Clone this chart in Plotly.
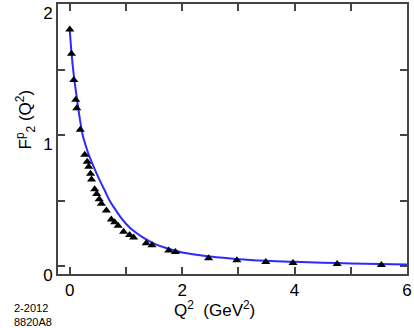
"""Proton Pauli form factor F2p(Q^2): data points and fitted curve."""
import plotly.graph_objects as go

q2_data = [0.00, 0.03, 0.071, 0.106, 0.124, 0.186, 0.266, 0.310, 0.337, 0.369,
           0.387, 0.443, 0.479, 0.523, 0.562, 0.651, 0.739, 0.798, 0.860, 0.957,
           1.064, 1.135, 1.360, 1.463, 1.761, 1.879, 2.470, 2.973, 3.488, 3.972,
           4.757, 5.544]
f2_data = [1.806, 1.620, 1.420, 1.271, 1.206, 1.041, 0.851, 0.797, 0.759, 0.707,
           0.662, 0.588, 0.551, 0.512, 0.478, 0.426, 0.358, 0.336, 0.309, 0.264,
           0.240, 0.221, 0.177, 0.161, 0.122, 0.110, 0.063, 0.047, 0.034, 0.026,
           0.018, 0.011]

# fitted curve (sampled off the figure)
q2_fit = [0.0, 0.03, 0.07, 0.12, 0.18, 0.23, 0.27, 0.33, 0.40, 0.47, 0.55, 0.62,
          0.71, 0.80, 0.90, 1.0, 1.1, 1.3, 1.5, 1.7, 2.0, 2.5, 3.0, 3.5, 4.0,
          4.75, 5.5, 6.0]
f2_fit = [1.80, 1.63, 1.46, 1.30, 1.12, 1.00, 0.94, 0.86, 0.785, 0.715, 0.64, 0.58,
          0.50, 0.44, 0.378, 0.325, 0.283, 0.221, 0.174, 0.142, 0.106, 0.075, 0.055,
          0.043, 0.035, 0.025, 0.018, 0.014]

x_ticks = [0, 1, 2, 3, 4, 5, 6]
x_ticklabels = ["0", "", "2", "", "4", "", "6"]
y_ticks = [0, 0.5, 1, 1.5, 2]
y_ticklabels = ["0", "", "1", "", "2"]

FONT = "Liberation Sans, Arial, Helvetica, sans-serif"
AXIS_COLOR = "#444444"

fig = go.Figure()
fig.add_trace(go.Scatter(
    x=q2_fit, y=f2_fit, mode="lines", line=dict(color="#2b2bff", width=2, shape="spline"),
    showlegend=False, hoverinfo="skip",
))
fig.add_trace(go.Scatter(
    x=q2_data, y=f2_data, mode="markers",
    marker=dict(symbol="triangle-up", size=8, color="black"),
    showlegend=False,
))

axis_common = dict(
    showgrid=False, zeroline=False, showline=True, linecolor=AXIS_COLOR, linewidth=2,
    mirror="allticks", ticks="inside", ticklen=7, tickwidth=1.5, tickcolor=AXIS_COLOR,
    tickfont=dict(family=FONT, size=17, color="black"),
)
fig.update_xaxes(range=[-0.21, 6.0], tickvals=x_ticks, ticktext=x_ticklabels, **axis_common)
fig.update_yaxes(range=[-0.058, 2.0], tickvals=y_ticks, ticktext=y_ticklabels,
                 ticklabelshift=9, **axis_common)

fig.add_annotation(
    text="Q<sup>2</sup>  (GeV<sup>2</sup>)", xref="paper", yref="paper",
    x=0.448, y=-0.130, xanchor="center", yanchor="middle", showarrow=False,
    font=dict(family=FONT, size=17, color="black"),
)
fig.add_annotation(
    text="F<sup>p</sup><sub>2</sub> (Q<sup>2</sup>)", xref="paper", yref="paper",
    x=-0.094, y=0.573, xanchor="center", yanchor="middle", showarrow=False, textangle=-90,
    font=dict(family=FONT, size=17, color="black"),
)
fig.add_annotation(
    text="2-2012<br>8820A8", xref="paper", yref="paper",
    x=-0.131, y=-0.097, xanchor="left", yanchor="top", align="left", showarrow=False,
    font=dict(family=FONT, size=11, color="black"),
)

fig.update_layout(
    width=414, height=328,
    margin=dict(l=58, r=6, t=2, b=54),
    paper_bgcolor="white", plot_bgcolor="white",
    font=dict(family=FONT, color="black"),
)

# page body has a default 8px margin; drop it so the figure sits at the corner
fig.write_html("out.html", config={"displayModeBar": False},
               post_script="document.body.style.margin = '0';")
